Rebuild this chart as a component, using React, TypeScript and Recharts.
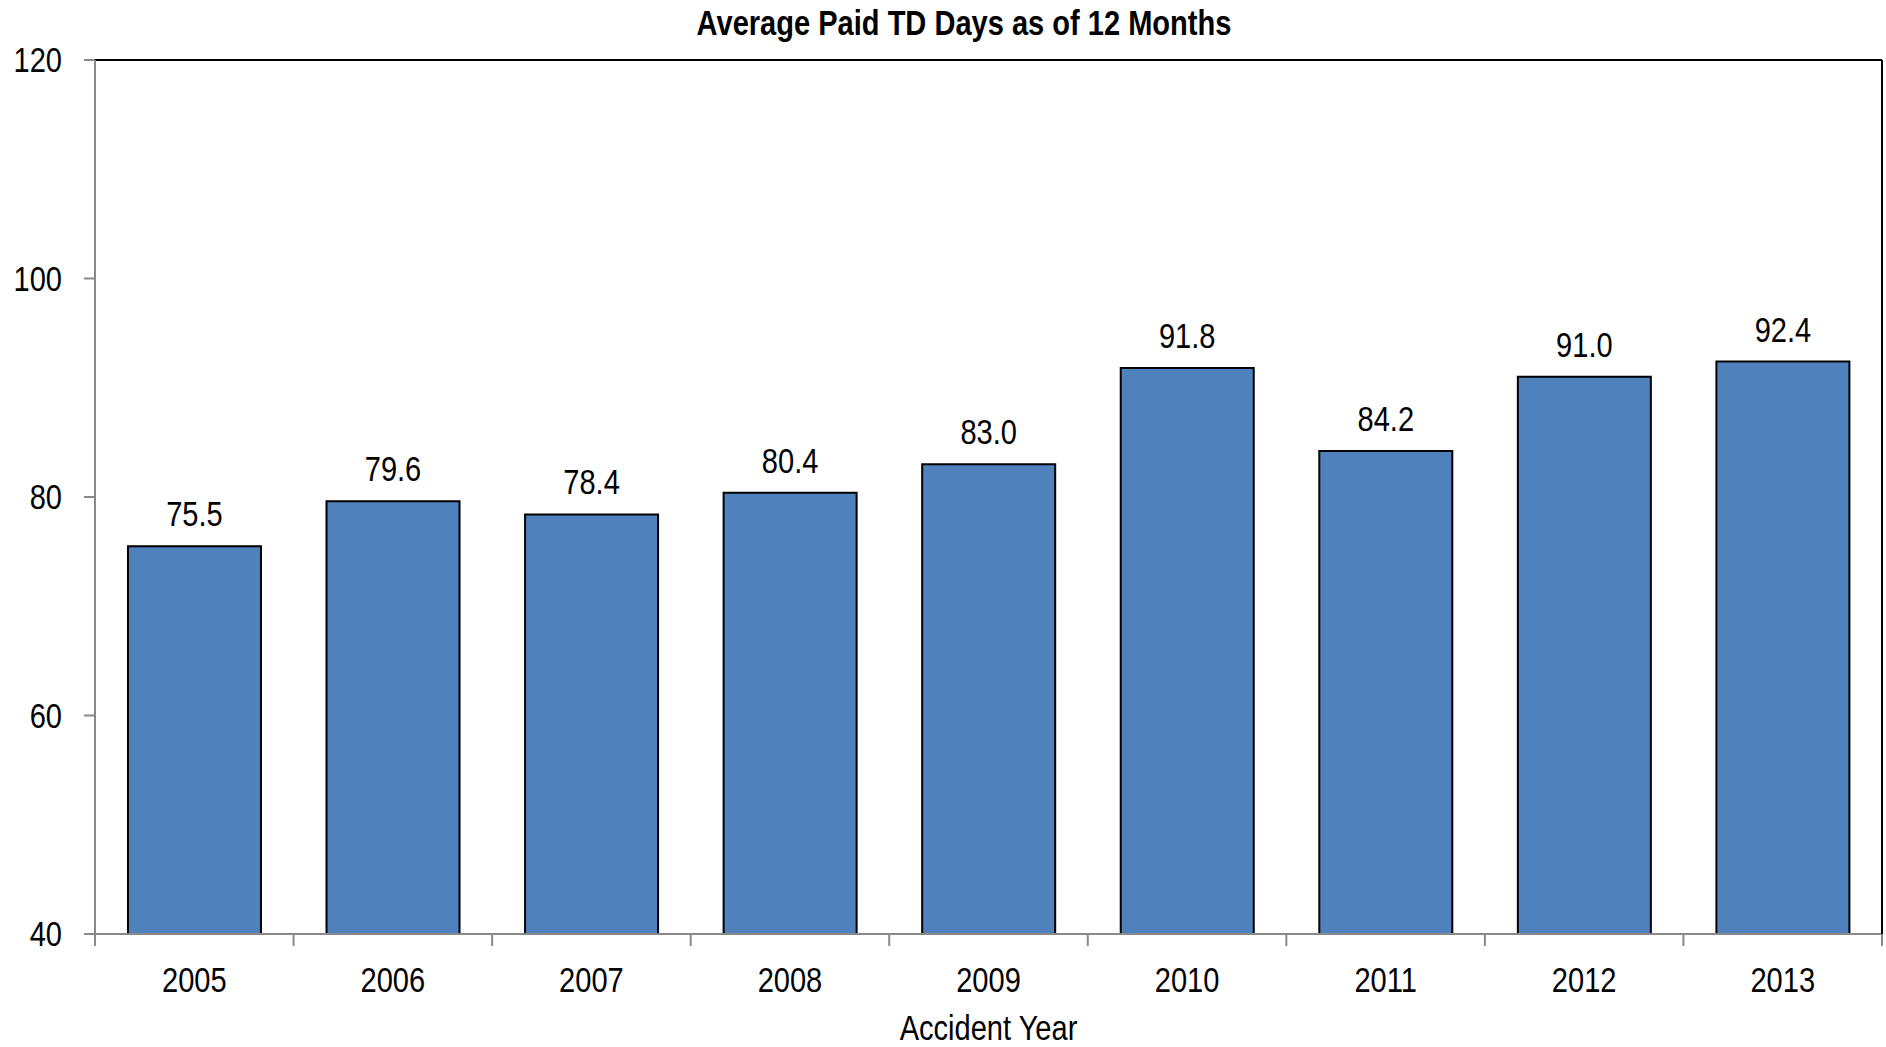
import React from "react";
import {
  BarChart,
  Bar,
  XAxis,
  YAxis,
  LabelList,
} from "recharts";

const years = ["2005", "2006", "2007", "2008", "2009", "2010", "2011", "2012", "2013"];
const avgDays = [75.5, 79.6, 78.4, 80.4, 83.0, 91.8, 84.2, 91.0, 92.4];
const yTicks = [40, 60, 80, 100, 120];
const boundaryTicks = [0, 1, 2, 3, 4, 5, 6, 7, 8, 9];

const data = years.map((year, i) => ({ year, days: avgDays[i] }));

const FONT = "'Liberation Sans', Arial, sans-serif";
const NARROW = 0.83; // squeeze Liberation Sans towards Arial Narrow
const SIZE = 35;

// text squeezed horizontally around its anchor point
const NarrowText = ({ x, y, anchor = "middle", dy = 0, size = SIZE, weight = "normal", children }: any) => (
  <g transform={`translate(${x},${y}) scale(${NARROW},1)`}>
    <text x={0} y={0} dy={dy} textAnchor={anchor} fontSize={size} fontWeight={weight} fontFamily={FONT} fill="#000">
      {children}
    </text>
  </g>
);

const XTick = ({ x, y, payload }: any) => (
  <NarrowText x={x} y={y} dy="0.71em">{payload.value}</NarrowText>
);

const YTick = ({ x, y, payload }: any) => (
  <NarrowText x={x} y={y} anchor="end" dy="0.355em">{payload.value}</NarrowText>
);

const EmptyTick = () => <g />;

const ValueLabel = ({ x, y, width, value }: any) => (
  <NarrowText x={x + width / 2} y={y - 20}>{Number(value).toFixed(1)}</NarrowText>
);

const AxisTitle = ({ viewBox }: any) => (
  <NarrowText x={viewBox.x + viewBox.width / 2} y={viewBox.y + viewBox.height - 7}>Accident Year</NarrowText>
);

export default function App() {
  return (
    <div style={{ position: "absolute", left: 0, top: 0, width: 1886, height: 1047, background: "#fff" }}>
      <svg width={1886} height={60} style={{ position: "absolute", left: 0, top: 0 }}>
        <NarrowText x={964} y={35} weight="bold">Average Paid TD Days as of 12 Months</NarrowText>
      </svg>
      <BarChart
        width={1886}
        height={1047}
        data={data}
        margin={{ top: 59, right: 3, bottom: 0, left: 0 }}
        barCategoryGap="16.6%"
      >
        {/* tick marks between categories (0..9 = category boundaries) + gray baseline */}
        <XAxis
          xAxisId="axisA"
          type="number"
          dataKey="days"
          domain={[0, 9]}
          ticks={boundaryTicks}
          allowDataOverflow
          interval={0}
          height={1}
          tick={<EmptyTick />}
          tickSize={12}
          tickLine={{ stroke: "#898989", strokeWidth: 2 }}
          axisLine={{ stroke: "#898989", strokeWidth: 2 }}
        />
        <XAxis
          xAxisId="axisB"
          dataKey="year"
          height={112}
          axisLine={false}
          tickLine={false}
          tickSize={12}
          tickMargin={20}
          tick={<XTick />}
          label={{ content: <AxisTitle /> }}
        />
        <XAxis
          xAxisId="axisTop"
          orientation="top"
          type="number"
          dataKey="days"
          domain={[0, 9]}
          allowDataOverflow
          height={1}
          tick={false}
          tickLine={false}
          axisLine={{ stroke: "#000", strokeWidth: 2 }}
        />
        <YAxis
          yAxisId="left"
          domain={[40, 120]}
          ticks={yTicks}
          width={95}
          tickSize={11}
          tickMargin={22}
          tickLine={{ stroke: "#898989", strokeWidth: 2 }}
          axisLine={{ stroke: "#898989", strokeWidth: 2 }}
          tick={<YTick />}
        />
        <YAxis
          yAxisId="right"
          orientation="right"
          domain={[40, 120]}
          width={1}
          tick={false}
          tickLine={false}
          axisLine={{ stroke: "#000", strokeWidth: 2 }}
        />
        <Bar
          xAxisId="axisB"
          yAxisId="left"
          dataKey="days"
          fill="#4F81BD"
          stroke="#000"
          strokeWidth={2}
          isAnimationActive={false}
        >
          <LabelList dataKey="days" content={<ValueLabel />} />
        </Bar>
      </BarChart>
    </div>
  );
}
